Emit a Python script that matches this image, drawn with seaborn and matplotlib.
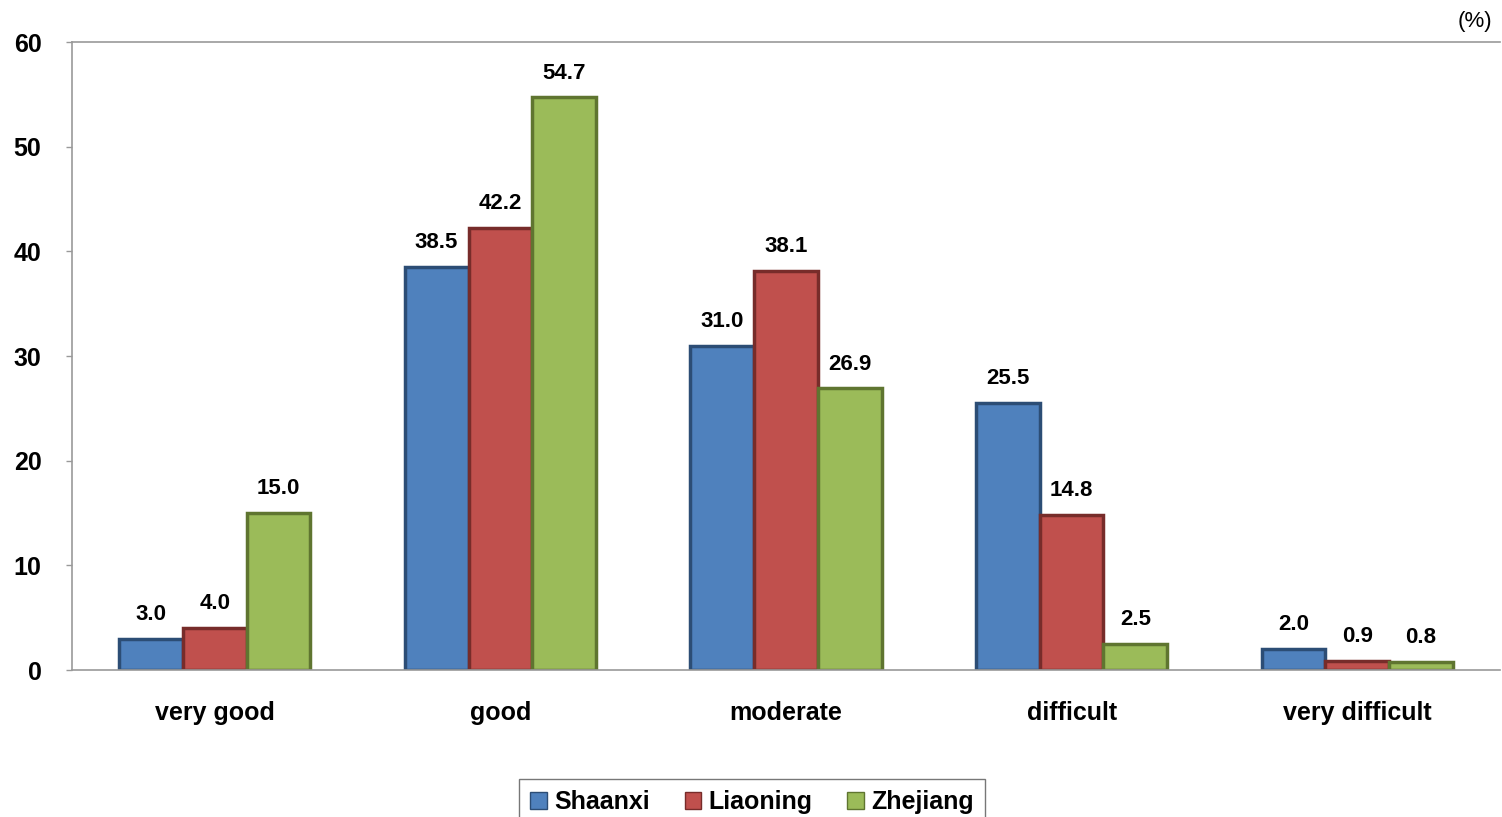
import matplotlib
matplotlib.use("Agg")
import matplotlib.pyplot as plt
import seaborn as sns
import pandas as pd
from matplotlib.patches import Patch

categories = ["very good", "good", "moderate", "difficult", "very difficult"]
regions = ["Shaanxi", "Liaoning", "Zhejiang"]
shaanxi = [3.0, 38.5, 31.0, 25.5, 2.0]
liaoning = [4.0, 42.2, 38.1, 14.8, 0.9]
zhejiang = [15.0, 54.7, 26.9, 2.5, 0.8]
yticks = [0, 10, 20, 30, 40, 50, 60]

colors = ["#4F81BD", "#C0504D", "#9BBB59"]
edges = ["#2C4D75", "#772C2A", "#5F7530"]

rows = []
for reg, vals in zip(regions, [shaanxi, liaoning, zhejiang]):
    for c, v in zip(categories, vals):
        rows.append({"category": c, "region": reg, "value": v})
df = pd.DataFrame(rows)

sns.set_style("white")
plt.rcParams["font.family"] = ["Liberation Sans", "DejaVu Sans"]
plt.rcParams["text.color"] = "black"
plt.rcParams["xtick.color"] = "black"
plt.rcParams["ytick.color"] = "black"

fig = plt.figure(figsize=(15.02, 8.17), dpi=100)
ax = fig.add_axes([72/1502, 1-670/817, (1500-72)/1502, (670-42)/817])

sns.barplot(data=df, x="category", y="value", hue="region", order=categories,
            hue_order=regions, palette=colors, width=0.67, ax=ax,
            errorbar=None, legend=False, saturation=1)

for cont, ec in zip(ax.containers, edges):
    for bar in cont:
        bar.set_edgecolor(ec)
        bar.set_linewidth(2.5)
    ax.bar_label(cont, fmt="%.1f", padding=10, fontsize=16, fontweight="bold",
                 color="black")

ax.set_xlim(-0.5, 4.5)
ax.set_ylim(0, 60)
ax.set_yticks(yticks)
ax.set_xlabel("")
ax.set_ylabel("")
ax.set_yticklabels([str(t) for t in yticks], fontsize=18, fontweight="bold")
ax.set_xticks(range(5))
ax.set_xticklabels(categories, fontsize=18, fontweight="bold")
ax.set_xticks([i - 0.5 for i in range(6)], minor=True)
ax.tick_params(axis="x", which="major", length=0, pad=22)
ax.tick_params(axis="x", which="minor", length=9, color="#999999", width=1)
ax.tick_params(axis="y", length=4, color="#999999", width=1, pad=18, left=True,
               labelcolor="black")

for side in ["left", "bottom", "top"]:
    ax.spines[side].set_color("#999999")
    ax.spines[side].set_linewidth(1.2)
ax.spines["right"].set_visible(False)

fig.text(1475/1502, 1-22/817, "(%)", fontsize=16, ha="center", va="center")

handles = [Patch(facecolor=c, edgecolor=e) for c, e in zip(colors, edges)]
leg = fig.legend(handles, regions, loc="upper center", ncol=3,
                 bbox_to_anchor=(752/1502, 1-779/817), frameon=True,
                 fancybox=False, prop={"size": 18, "weight": "bold"},
                 handlelength=0.65, handleheight=0.65, handletextpad=0.3,
                 columnspacing=1.4, borderpad=0.45, borderaxespad=0)
leg.get_frame().set_edgecolor("#555555")
leg.get_frame().set_linewidth(1)
for t in leg.get_texts():
    t.set_color("black")

fig.savefig("out.png", dpi=100)
